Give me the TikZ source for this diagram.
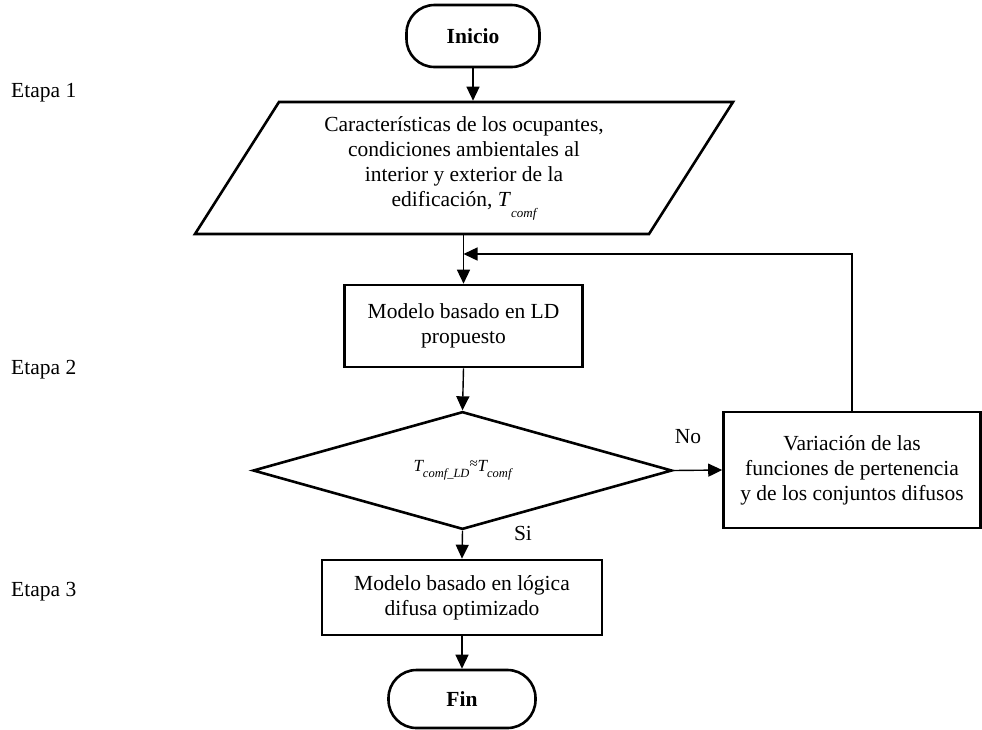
\documentclass[tikz,border=0pt]{standalone}
\usepackage{fontspec}
\setmainfont{Liberation Serif}
\usetikzlibrary{arrows.meta,shapes.geometric}
\begin{document}
\begin{tikzpicture}[x=1pt,y=-1pt,
  every node/.style={font=\fontsize{21.5}{25}\selectfont},
  boxline/.style={draw=black,line width=2.6pt},
  terminal/.style={boxline,rectangle,rounded corners=28pt,inner sep=0pt,
    font=\fontsize{21.5}{25}\selectfont\bfseries},
  procbox/.style={boxline,rectangle,align=center,inner sep=0pt},
  iobox/.style={boxline,trapezium,trapezium left angle=51,trapezium right angle=129,
    trapezium stretches body,align=center,inner sep=0pt},
  decision/.style={boxline,diamond,inner sep=0pt},
  flow/.style={draw=black,line width=1.4pt,-{Triangle[length=14pt,width=13pt]}},
  tag/.style={inner sep=0pt}
]
\useasboundingbox (0,0) rectangle (982,729);

% stage labels
\node[tag,anchor=west] (s1) at (11,93)  {Etapa 1};
\node[tag,anchor=west] (s2) at (11,370) {Etapa 2};
\node[tag,anchor=west] (s3) at (11,592) {Etapa 3};

% flow chart nodes
\node[terminal,minimum width=133pt,minimum height=62pt] (start) at (473,36) {Inicio};
\node[iobox,minimum width=538pt,minimum height=132pt] (inp) at (464,168)
  {Características de los ocupantes,\\ condiciones ambientales al\\ interior y exterior de la\\
   edificación, \textit{T}\raisebox{-11pt}{\fontsize{13}{13}\selectfont\itshape comf}};
\node[procbox,minimum width=238pt,minimum height=82pt] (model) at (463.5,326)
  {Modelo basado en LD\\ propuesto};
\node[decision,minimum width=419pt,minimum height=107pt] (dec) at (462.5,470.5)
  {\fontsize{17}{17}\selectfont\itshape T\raisebox{-6pt}{\fontsize{12.5}{12.5}\selectfont comf\_LD}%
   \raisebox{3pt}{\normalfont\fontsize{15}{15}\selectfont ≈}T\raisebox{-6pt}{\fontsize{12.5}{12.5}\selectfont comf}};
\node[procbox,minimum width=257pt,minimum height=116pt] (vary) at (852,470)
  {Variación de las\\ funciones de pertenencia\\ y de los conjuntos difusos};
\node[procbox,minimum width=280pt,minimum height=75pt] (opt) at (462,597.5)
  {Modelo basado en lógica\\ difusa optimizado};
\node[terminal,minimum width=147pt,minimum height=58pt] (finish) at (462,699) {Fin};

\coordinate (merge) at (463.5,254);

% connectors
\draw[flow] (start.south) -- (start.south |- inp.north);
\draw[flow] (inp.south -| model.north) -- (model.north);
\draw[flow] (vary.north) |- (merge);
\draw[flow] (model.south) -- (dec.north);
\draw[flow] (dec.east) -- (vary.west);
\draw[flow] (dec.south) -- (opt.north);
\draw[flow] (opt.south) -- (finish.north);

% branch labels
\node[tag] (nolab) at (688,437) {No};
\node[tag] (silab) at (523,533) {Si};
\end{tikzpicture}
\end{document}
